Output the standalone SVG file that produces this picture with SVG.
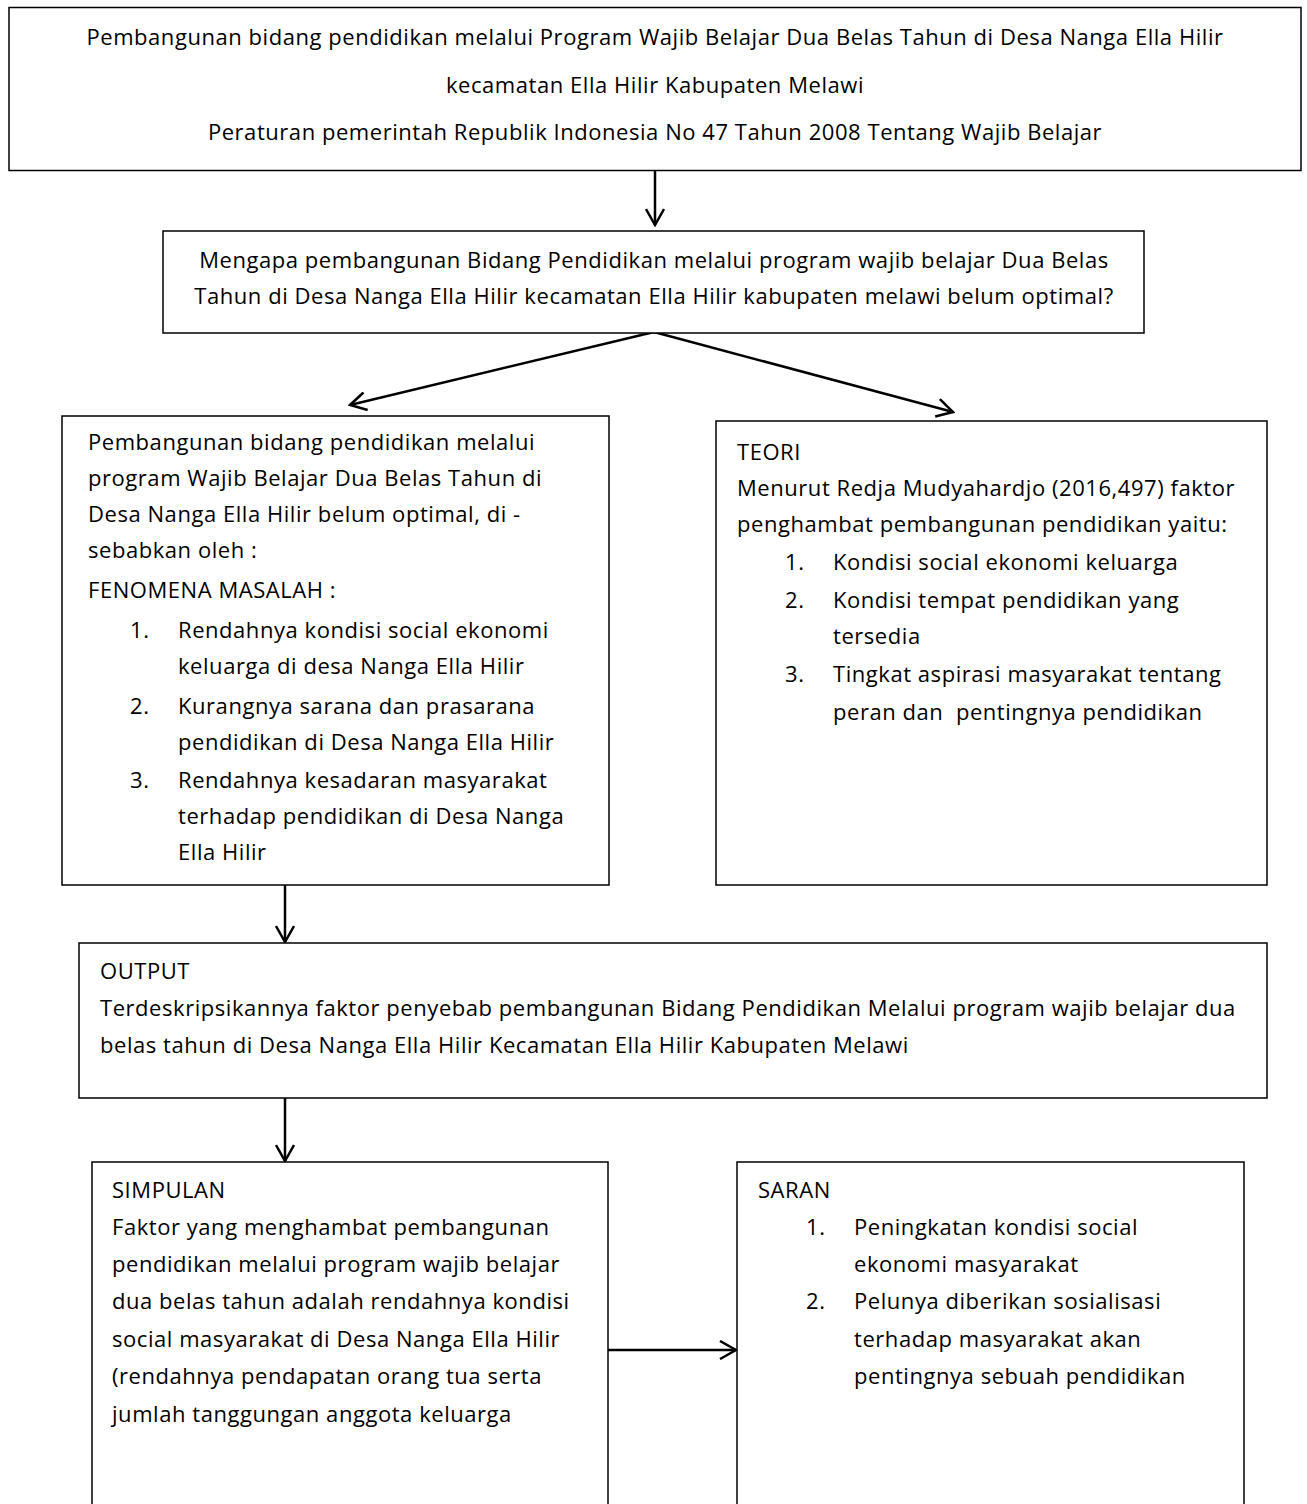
<svg xmlns="http://www.w3.org/2000/svg" width="1307" height="1504" viewBox="0 0 1307 1504">
<style>
.box{fill:#fff;stroke:#000;stroke-width:1.5}
.t{font-family:"Open Sans","Liberation Sans",Arial,sans-serif;font-size:22px;letter-spacing:0.55px;fill:#000}
.c{text-anchor:middle}
.con{stroke:#000;stroke-width:2.5;fill:none}
</style>
<defs>
<marker id="ah" viewBox="0 0 20 20" refX="18" refY="10" markerWidth="20" markerHeight="20" markerUnits="userSpaceOnUse" orient="auto">
<path d="M2,1 L18,10 L2,19" fill="none" stroke="#000" stroke-width="2.5"/>
</marker>
</defs>
<rect width="1307" height="1504" fill="#fff"/>
<g id="connectors">
<line class="con" x1="655" y1="170" x2="655" y2="225" marker-end="url(#ah)"/>
<line class="con" x1="654" y1="332" x2="350" y2="405" marker-end="url(#ah)"/>
<line class="con" x1="654" y1="332" x2="953" y2="412" marker-end="url(#ah)"/>
<line class="con" x1="285" y1="885" x2="285" y2="942" marker-end="url(#ah)"/>
<line class="con" x1="285" y1="1098" x2="285" y2="1161" marker-end="url(#ah)"/>
<line class="con" x1="608" y1="1350" x2="736" y2="1350" marker-end="url(#ah)"/>
</g>
<g id="node-top">
<rect class="box" x="9" y="7.5" width="1292" height="163"/>
<text class="t c" x="655" y="45">Pembangunan bidang pendidikan melalui Program Wajib Belajar Dua Belas Tahun di Desa Nanga Ella Hilir</text>
<text class="t c" x="655" y="93">kecamatan Ella Hilir Kabupaten Melawi</text>
<text class="t c" x="655" y="140">Peraturan pemerintah Republik Indonesia No 47 Tahun 2008 Tentang Wajib Belajar</text>
</g>
<g id="node-question">
<rect class="box" x="163" y="231" width="981" height="102"/>
<text class="t c" x="654" y="268">Mengapa pembangunan Bidang Pendidikan melalui program wajib belajar Dua Belas</text>
<text class="t c" x="654" y="304">Tahun di Desa Nanga Ella Hilir kecamatan Ella Hilir kabupaten melawi belum optimal?</text>
</g>
<g id="node-fenomena">
<rect class="box" x="62" y="416" width="547" height="469"/>
<text class="t" x="88" y="450">Pembangunan bidang pendidikan melalui</text>
<text class="t" x="88" y="486">program Wajib Belajar Dua Belas Tahun di</text>
<text class="t" x="88" y="522">Desa Nanga Ella Hilir belum optimal, di -</text>
<text class="t" x="88" y="558">sebabkan oleh :</text>
<text class="t" x="88" y="598">FENOMENA MASALAH :</text>
<text class="t" x="130" y="638">1.</text>
<text class="t" x="178" y="638">Rendahnya kondisi social ekonomi</text>
<text class="t" x="178" y="674">keluarga di desa Nanga Ella Hilir</text>
<text class="t" x="130" y="714">2.</text>
<text class="t" x="178" y="714">Kurangnya sarana dan prasarana</text>
<text class="t" x="178" y="750">pendidikan di Desa Nanga Ella Hilir</text>
<text class="t" x="130" y="788">3.</text>
<text class="t" x="178" y="788">Rendahnya kesadaran masyarakat</text>
<text class="t" x="178" y="824">terhadap pendidikan di Desa Nanga</text>
<text class="t" x="178" y="860">Ella Hilir</text>
</g>
<g id="node-teori">
<rect class="box" x="716" y="421" width="551" height="464"/>
<text class="t" x="737" y="460">TEORI</text>
<text class="t" x="737" y="496">Menurut Redja Mudyahardjo (2016,497) faktor</text>
<text class="t" x="737" y="532">penghambat pembangunan pendidikan yaitu:</text>
<text class="t" x="785" y="570">1.</text>
<text class="t" x="833" y="570">Kondisi social ekonomi keluarga</text>
<text class="t" x="785" y="608">2.</text>
<text class="t" x="833" y="608">Kondisi tempat pendidikan yang</text>
<text class="t" x="833" y="644">tersedia</text>
<text class="t" x="785" y="682">3.</text>
<text class="t" x="833" y="682">Tingkat aspirasi masyarakat tentang</text>
<text class="t" x="833" y="720" xml:space="preserve">peran dan  pentingnya pendidikan</text>
</g>
<g id="node-output">
<rect class="box" x="79" y="943" width="1188" height="155"/>
<text class="t" x="100" y="979">OUTPUT</text>
<text class="t" x="100" y="1016">Terdeskripsikannya faktor penyebab pembangunan Bidang Pendidikan Melalui program wajib belajar dua</text>
<text class="t" x="100" y="1053">belas tahun di Desa Nanga Ella Hilir Kecamatan Ella Hilir Kabupaten Melawi</text>
</g>
<g id="node-simpulan">
<rect class="box" x="92" y="1162" width="516" height="360"/>
<text class="t" x="112" y="1198">SIMPULAN</text>
<text class="t" x="112" y="1235">Faktor yang menghambat pembangunan</text>
<text class="t" x="112" y="1272">pendidikan melalui program wajib belajar</text>
<text class="t" x="112" y="1309">dua belas tahun adalah rendahnya kondisi</text>
<text class="t" x="112" y="1347">social masyarakat di Desa Nanga Ella Hilir</text>
<text class="t" x="112" y="1384">(rendahnya pendapatan orang tua serta</text>
<text class="t" x="112" y="1422">jumlah tanggungan anggota keluarga</text>
</g>
<g id="node-saran">
<rect class="box" x="737" y="1162" width="507" height="360"/>
<text class="t" x="758" y="1198">SARAN</text>
<text class="t" x="806" y="1235">1.</text>
<text class="t" x="854" y="1235">Peningkatan kondisi social</text>
<text class="t" x="854" y="1272">ekonomi masyarakat</text>
<text class="t" x="806" y="1309">2.</text>
<text class="t" x="854" y="1309">Pelunya diberikan sosialisasi</text>
<text class="t" x="854" y="1347">terhadap masyarakat akan</text>
<text class="t" x="854" y="1384">pentingnya sebuah pendidikan</text>
</g>
</svg>
